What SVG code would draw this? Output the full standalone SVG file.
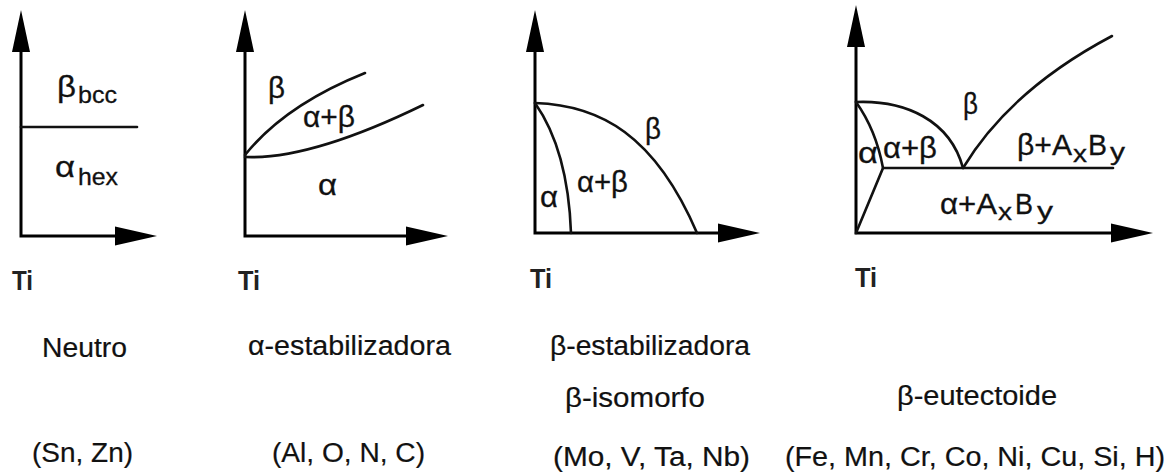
<svg xmlns="http://www.w3.org/2000/svg" width="1167" height="475" viewBox="0 0 1167 475">
  <style>
    .ax { stroke: #000; stroke-width: 3; fill: none; }
    .ln { stroke: #111; stroke-width: 2.6; fill: none; stroke-linecap: round; }
    .ah { fill: #000; stroke: none; }
    text { font-family: "Liberation Sans", Arial, sans-serif; fill: #111; }
    .g { font-size: 29px; stroke: #111; stroke-width: 0.3; }
    .s { font-size: 24px; stroke: #111; stroke-width: 0.3; }
    .ti { font-size: 28px; font-weight: bold; fill: #222; }
    .cap { font-size: 27px; fill: #111; stroke: #111; stroke-width: 0.2; }
  </style>
  <defs>
    <path id="arrR" d="M0,0 L-42,-9.5 L-42,9.5 Z"/>
    <path id="arrU" d="M0,0 L-9,42 L9,42 Z"/>
  </defs>

  <rect x="0" y="0" width="1167" height="475" fill="#fff"/>

  <!-- Panel 1: Neutro -->
  <g id="panel-neutro">
    <path class="ax" d="M21,48 L21,236 L118,236"/>
    <use href="#arrU" class="ah" x="21" y="10"/>
    <use href="#arrR" class="ah" x="157" y="236"/>
    <path class="ln" d="M21,127 L137,127"/>
    <text class="g" x="57" y="97" textLength="19" lengthAdjust="spacingAndGlyphs">β</text>
    <text class="s" x="78" y="103" textLength="39" lengthAdjust="spacingAndGlyphs">bcc</text>
    <text class="g" x="55" y="177" textLength="20" lengthAdjust="spacingAndGlyphs">α</text>
    <text class="s" x="78" y="185" textLength="40" lengthAdjust="spacingAndGlyphs">hex</text>
    <text class="ti" x="12" y="290" textLength="21" lengthAdjust="spacingAndGlyphs">Ti</text>
  </g>

  <!-- Panel 2: alpha-stabilizer -->
  <g id="panel-alpha">
    <path class="ax" d="M245,48 L245,236 L408,236"/>
    <use href="#arrU" class="ah" x="245" y="10"/>
    <use href="#arrR" class="ah" x="448" y="236"/>
    <text class="g" x="268" y="98" textLength="17" lengthAdjust="spacingAndGlyphs">β</text>
    <text class="g" x="303" y="127" textLength="52" lengthAdjust="spacingAndGlyphs">α+β</text>
    <text class="g" x="318" y="195" textLength="19" lengthAdjust="spacingAndGlyphs">α</text>
    <text class="ti" x="238" y="290" textLength="22" lengthAdjust="spacingAndGlyphs">Ti</text>
  </g>

  <!-- Panel 3: beta-isomorphous -->
  <g id="panel-beta-iso">
    <path class="ax" d="M535,48 L535,233 L720,233"/>
    <use href="#arrU" class="ah" x="535" y="10"/>
    <use href="#arrR" class="ah" x="760" y="233"/>
    <text class="g" x="645" y="139" textLength="16" lengthAdjust="spacingAndGlyphs">β</text>
    <text class="g" x="540" y="207" textLength="18" lengthAdjust="spacingAndGlyphs">α</text>
    <text class="g" x="577" y="192" textLength="51" lengthAdjust="spacingAndGlyphs">α+β</text>
    <text class="ti" x="530" y="288" textLength="22" lengthAdjust="spacingAndGlyphs">Ti</text>
  </g>

  <!-- Panel 4: beta-eutectoid -->
  <g id="panel-beta-eut">
    <path class="ax" d="M856,45 L856,233 L1115,233"/>
    <use href="#arrU" class="ah" x="856" y="5"/>
    <use href="#arrR" class="ah" x="1153" y="233"/>
    <text class="g" x="963" y="114" textLength="15" lengthAdjust="spacingAndGlyphs">β</text>
    <text class="g" x="858" y="163" textLength="20" lengthAdjust="spacingAndGlyphs">α</text>
    <text class="g" x="883" y="158" textLength="54" lengthAdjust="spacingAndGlyphs">α+β</text>
    <text class="g" x="1017" y="155" textLength="55" lengthAdjust="spacingAndGlyphs">β+A</text>
    <text class="s" x="1073" y="162" textLength="14" lengthAdjust="spacingAndGlyphs">x</text>
    <text class="g" x="1088" y="155" textLength="19" lengthAdjust="spacingAndGlyphs">B</text>
    <text class="s" x="1110" y="160" textLength="15" lengthAdjust="spacingAndGlyphs">y</text>
    <text class="g" x="940" y="214" textLength="57" lengthAdjust="spacingAndGlyphs">α+A</text>
    <text class="s" x="998" y="220" textLength="14" lengthAdjust="spacingAndGlyphs">x</text>
    <text class="g" x="1015" y="214" textLength="18" lengthAdjust="spacingAndGlyphs">B</text>
    <text class="s" x="1037" y="219" textLength="16" lengthAdjust="spacingAndGlyphs">y</text>
    <text class="ti" x="855" y="287" textLength="22" lengthAdjust="spacingAndGlyphs">Ti</text>
  </g>

  <!-- Phase boundary curves -->
  <g id="connectors">
    <path class="ln" d="M245,155 Q285,105 365,73"/>
    <path class="ln" d="M245,157 Q310,160 423,105"/>
    <path class="ln" d="M535,103 Q568,150 571,233"/>
    <path class="ln" d="M535,103 C600,105 655,135 697,233"/>
    <path class="ln" d="M856,102 C905,100 950,120 963,168"/>
    <path class="ln" d="M856,102 Q876,130 883,168 L856,233"/>
    <path class="ln" d="M883,168 L1113,168"/>
    <path class="ln" d="M963,168 Q1010,90 1112,36"/>
  </g>

  <!-- Captions -->
  <g id="captions">
    <text class="cap" x="42" y="357" textLength="85" lengthAdjust="spacingAndGlyphs">Neutro</text>
    <text class="cap" x="248" y="355" textLength="203" lengthAdjust="spacingAndGlyphs">α-estabilizadora</text>
    <text class="cap" x="550" y="355" textLength="200" lengthAdjust="spacingAndGlyphs">β-estabilizadora</text>
    <text class="cap" x="565" y="407" textLength="140" lengthAdjust="spacingAndGlyphs">β-isomorfo</text>
    <text class="cap" x="897" y="405" textLength="160" lengthAdjust="spacingAndGlyphs">β-eutectoide</text>
    <text class="cap" x="32" y="462" textLength="101" lengthAdjust="spacingAndGlyphs">(Sn, Zn)</text>
    <text class="cap" x="272" y="462" textLength="153" lengthAdjust="spacingAndGlyphs">(Al, O, N, C)</text>
    <text class="cap" x="553" y="466" textLength="197" lengthAdjust="spacingAndGlyphs">(Mo, V, Ta, Nb)</text>
    <text class="cap" x="785" y="466" textLength="380" lengthAdjust="spacingAndGlyphs">(Fe, Mn, Cr, Co, Ni, Cu, Si, H)</text>
  </g>
</svg>
